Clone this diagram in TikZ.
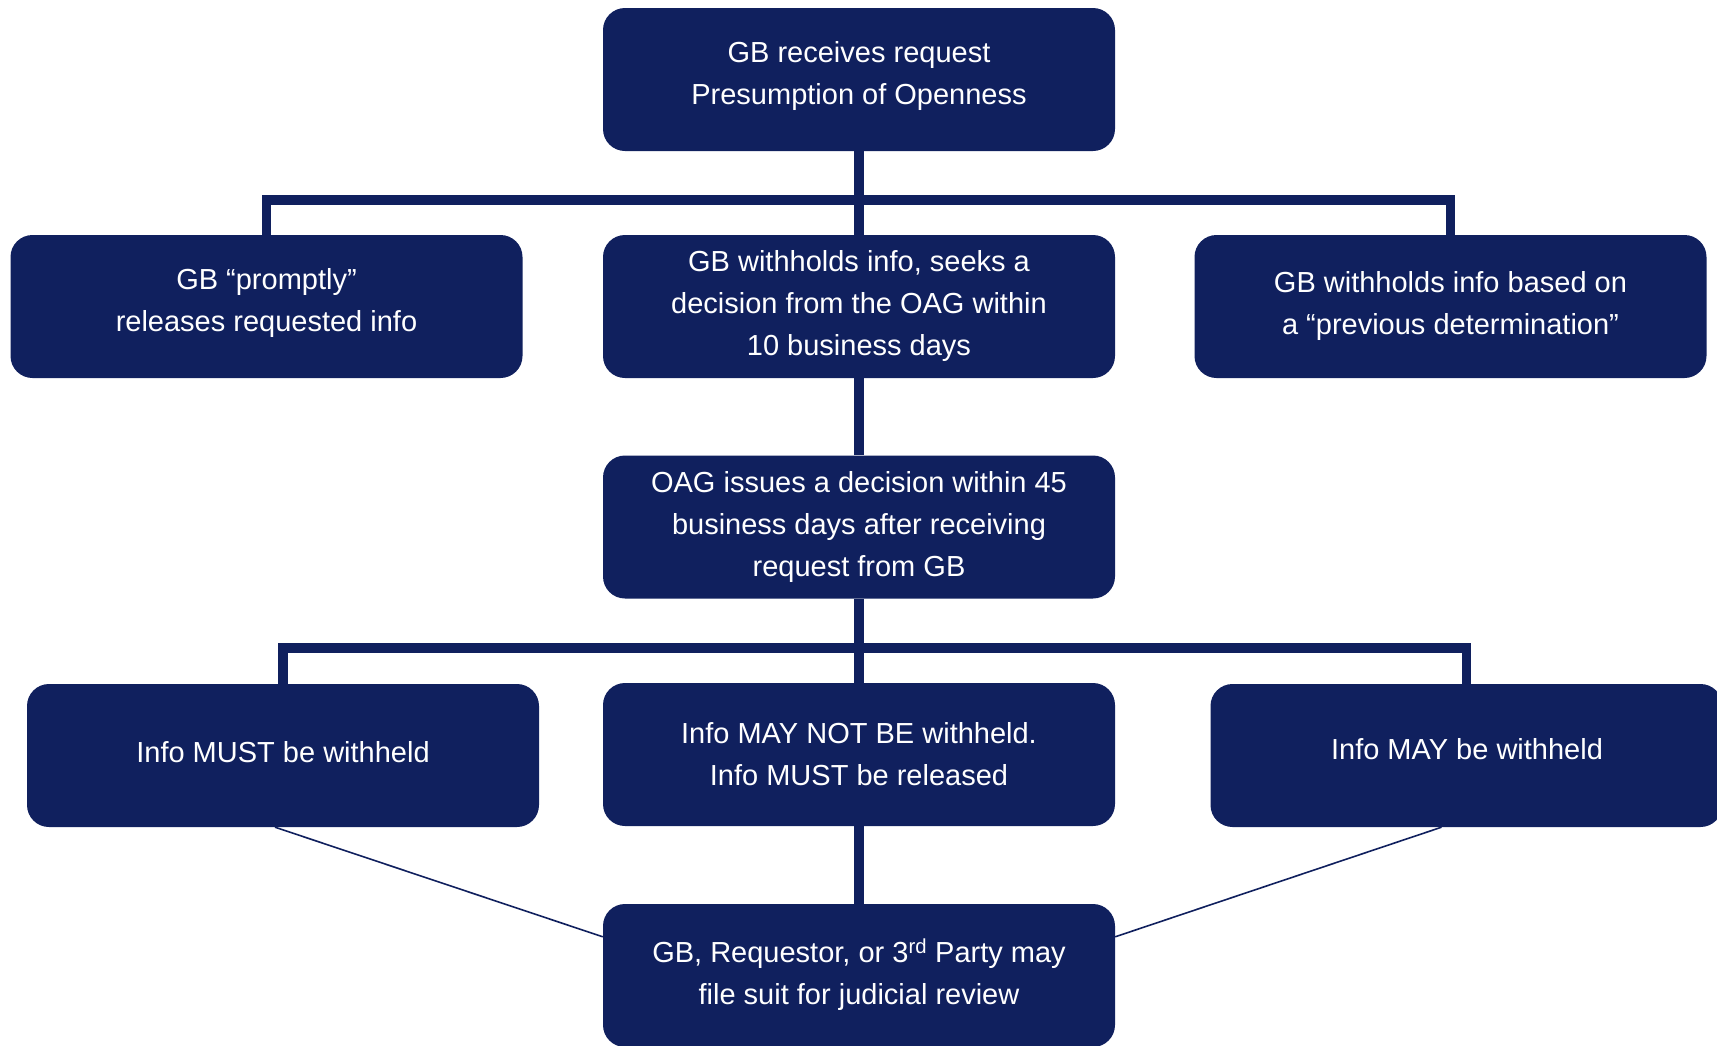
\documentclass[tikz,border=0pt]{standalone}
\usepackage{fontspec}
\setmainfont{Liberation Sans}
\usetikzlibrary{calc}
\definecolor{navy}{RGB}{16,32,94}
\begin{document}
\begin{tikzpicture}[x=1pt,y=-1pt,
  box/.style={fill=navy, draw=none, rounded corners=22pt, minimum width=512pt, minimum height=143pt, inner sep=0pt},
  txt/.style={text=white, align=center, font=\fontsize{29}{42}\selectfont, inner sep=0pt},
  bus/.style={draw=navy, line width=9.5pt, line join=miter},
  thinline/.style={draw=navy, line width=1.6pt}]
\useasboundingbox (0,0) rectangle (1717,1045);
\clip (0,0) rectangle (1717,1045);
% boxes
\node[box] (top) at (859,79.5) {};
\node[box] (l2) at (266.5,306.5) {};
\node[box] (m2) at (859,306.5) {};
\node[box] (r2) at (1450.5,306.5) {};
\node[box] (m3) at (859,527) {};
\node[box] (l4) at (283,755.5) {};
\node[box] (m4) at (859,754.5) {};
\node[box] (r4) at (1466.5,755.5) {};
\node[box] (bot) at (859,975.5) {};
\coordinate (bus1) at (859,200);
\coordinate (bus2) at (859,648);
% connectors
\draw[bus] (top.south) -- (m2.north);
\draw[bus] (l2.north) |- (bus1) -| (r2.north);
\draw[bus] (m2.south) -- (m3.north);
\draw[bus] (m3.south) -- (m4.north);
\draw[bus] (l4.north) |- (bus2) -| (r4.north);
\draw[bus] (m4.south) -- (bot.north);
\draw[thinline] ($(l4.south)+(-8,0)$) -- ($(bot.north west)+(0,33)$);
\draw[thinline] ($(r4.south)+(-25,0)$) -- ($(bot.north east)+(0,33)$);
% texts
\node[txt] (ttop) at (859,75.5) {GB receives request\\Presumption of Openness};
\node[txt] (tl2) at (266.5,303) {GB “promptly”\\releases requested info};
\node[txt] (tm2) at (859,305.5) {GB withholds info, seeks a\\decision from the OAG within\\10 business days};
\node[txt] (tr2) at (1450.5,305.5) {GB withholds info based on\\a “previous determination”};
\node[txt] (tm3) at (859,527) {OAG issues a decision within 45\\business days after receiving\\request from GB};
\node[txt] (tl4) at (283,752) {Info MUST be withheld};
\node[txt] (tm4) at (859,754) {Info MAY NOT BE withheld.\\Info MUST be released};
\node[txt] (tr4) at (1467,749) {Info MAY be withheld};
\node[txt] (tbot) at (859,974.5) {GB, Requestor, or 3\textsuperscript{rd} Party may\\file suit for judicial review};
\end{tikzpicture}
\end{document}
